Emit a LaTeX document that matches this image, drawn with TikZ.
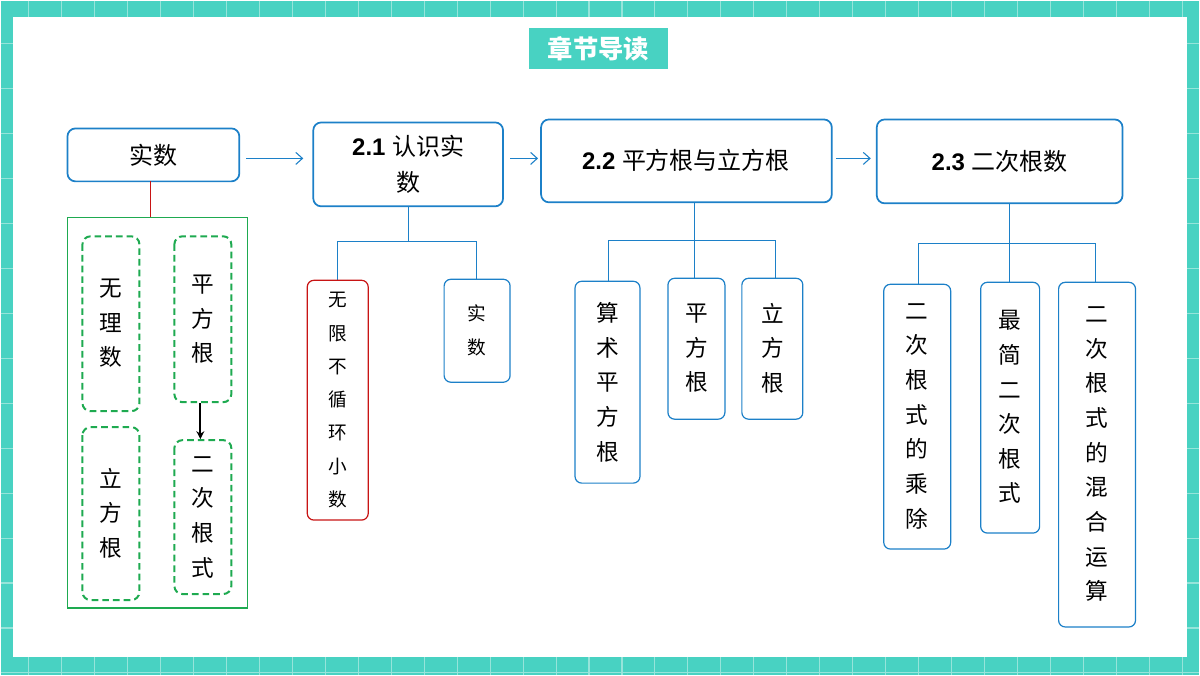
\documentclass[tikz,border=0pt]{standalone}
\usepackage{fontspec}
\setmainfont{Liberation Sans}
\newfontfamily\cjk{Noto Sans CJK SC}
\usetikzlibrary{arrows.meta}
\definecolor{tealbg}{RGB}{72,210,194}
\definecolor{gridl}{RGB}{150,228,218}
\definecolor{bxblue}{RGB}{28,128,200}
\definecolor{grn}{RGB}{30,170,80}
\definecolor{dred}{RGB}{200,20,20}
\begin{document}
\begin{tikzpicture}[x=0.75pt,y=-0.75pt,
 bx/.style={draw=bxblue,line width=1.3pt,rounded corners=6pt},
 leaf/.style={draw=bxblue,line width=0.9pt,rounded corners=5pt},
 dbx/.style={draw=grn,line width=1.5pt,rounded corners=6pt,dash pattern=on 5pt off 3pt},
 vt/.style={font=\cjk\fontsize{17}{26}\selectfont,align=center},
 ln/.style={draw=bxblue,line width=0.7pt},
 ar/.style={draw=bxblue,line width=0.8pt,-{Straight Barb[length=5pt,width=9pt]}}]
\fill[tealbg] (0,0) rectangle (1200,675);
\foreach \x in {28,61,...,1200} \draw[gridl,line width=0.8pt] (\x,0)--(\x,675);
\foreach \y in {43,88,...,675} \draw[gridl,line width=0.8pt] (0,\y)--(1200,\y);
\fill[white] (12,16) rectangle (1188,657);
\useasboundingbox (0,0) rectangle (1200,675);
% title
\fill[tealbg] (529,27) rectangle (668,69);
\node[font=\cjk\bfseries\fontsize{19}{20}\selectfont,text=white] (t) at (598.5,48) {章节导读};
% top boxes
\draw[bx] (67,128) rectangle (239,181); \node[font=\cjk\fontsize{18}{20}\selectfont] (a) at (153,155) {实数};
\draw[bx] (313,122) rectangle (503,206); \node[align=center,font=\fontsize{18}{27}\selectfont] (b) at (408,164) {\textbf{2.1} {\cjk 认识实}\\{\cjk 数}};
\draw[bx] (541,119) rectangle (832,202); \node[font=\fontsize{18}{20}\selectfont] (c) at (686,160) {\textbf{2.2} {\cjk 平方根与立方根}};
\draw[bx] (877,119) rectangle (1123,203); \node[font=\fontsize{18}{20}\selectfont] (d) at (1000,161) {\textbf{2.3} {\cjk 二次根数}};
\coordinate (a1) at (246,158); \coordinate (a2) at (303,158);
\coordinate (b1) at (510,158); \coordinate (b2) at (538,158);
\coordinate (c1) at (836,158); \coordinate (c2) at (871,158);
\draw[ar] (a1)--(a2); \draw[ar] (b1)--(b2); \draw[ar] (c1)--(c2);
% left group
\draw[dred,line width=0.9pt] (150,181)--(150,217);
\draw[grn,line width=1.1pt] (67,217) rectangle (247,608);
\draw[dbx] (82,236) rectangle (139,411); \node[vt] (n1) at (110.5,323) {无\\理\\数};
\draw[dbx] (174,236) rectangle (231,402); \node[vt] (n2) at (202.5,319) {平\\方\\根};
\draw[dbx] (82,427) rectangle (139,600); \node[vt] (n3) at (110.5,513) {立\\方\\根};
\draw[dbx] (174,440) rectangle (231,594); \node[vt] (n4) at (202.5,517) {二\\次\\根\\式};
\coordinate (p1) at (200,403); \coordinate (p2) at (200,439);
\draw[line width=1.5pt,-{Stealth[length=6pt,width=6pt]}] (p1)--(p2);
% 2.1 tree
\draw[ln] (408,206)--(408,241) (337,280)--(337,241)--(476,241)--(476,279);
\draw[dred,line width=0.9pt,rounded corners=5pt] (307,280) rectangle (368,520);
\node[vt,font=\cjk\fontsize{14}{25}\selectfont] (e1) at (337.5,400) {无\\限\\不\\循\\环\\小\\数};
\draw[leaf] (444,279) rectangle (510,382); \node[vt,font=\cjk\fontsize{14}{25}\selectfont] (e2) at (477,330) {实\\数};
% 2.2 tree
\draw[ln] (695,202)--(695,278) (608,281)--(608,240)--(776,240)--(776,278);
\draw[leaf] (575,281) rectangle (640,483); \node[vt] (f1) at (607.5,382) {算\\术\\平\\方\\根};
\draw[leaf] (668,278) rectangle (725,419); \node[vt] (f2) at (696.5,348) {平\\方\\根};
\draw[leaf] (742,278) rectangle (803,419); \node[vt] (f3) at (772.5,348) {立\\方\\根};
% 2.3 tree
\draw[ln] (1010,203)--(1010,282) (919,284)--(919,243)--(1096,243)--(1096,282);
\draw[leaf] (884,284) rectangle (951,549); \node[vt] (g1) at (917.5,416) {二\\次\\根\\式\\的\\乘\\除};
\draw[leaf] (981,282) rectangle (1040,533); \node[vt] (g2) at (1010.5,407) {最\\简\\二\\次\\根\\式};
\draw[leaf] (1059,282) rectangle (1136,627); \node[vt] (g3) at (1097.5,454) {二\\次\\根\\式\\的\\混\\合\\运\\算};
\end{tikzpicture}
\end{document}
